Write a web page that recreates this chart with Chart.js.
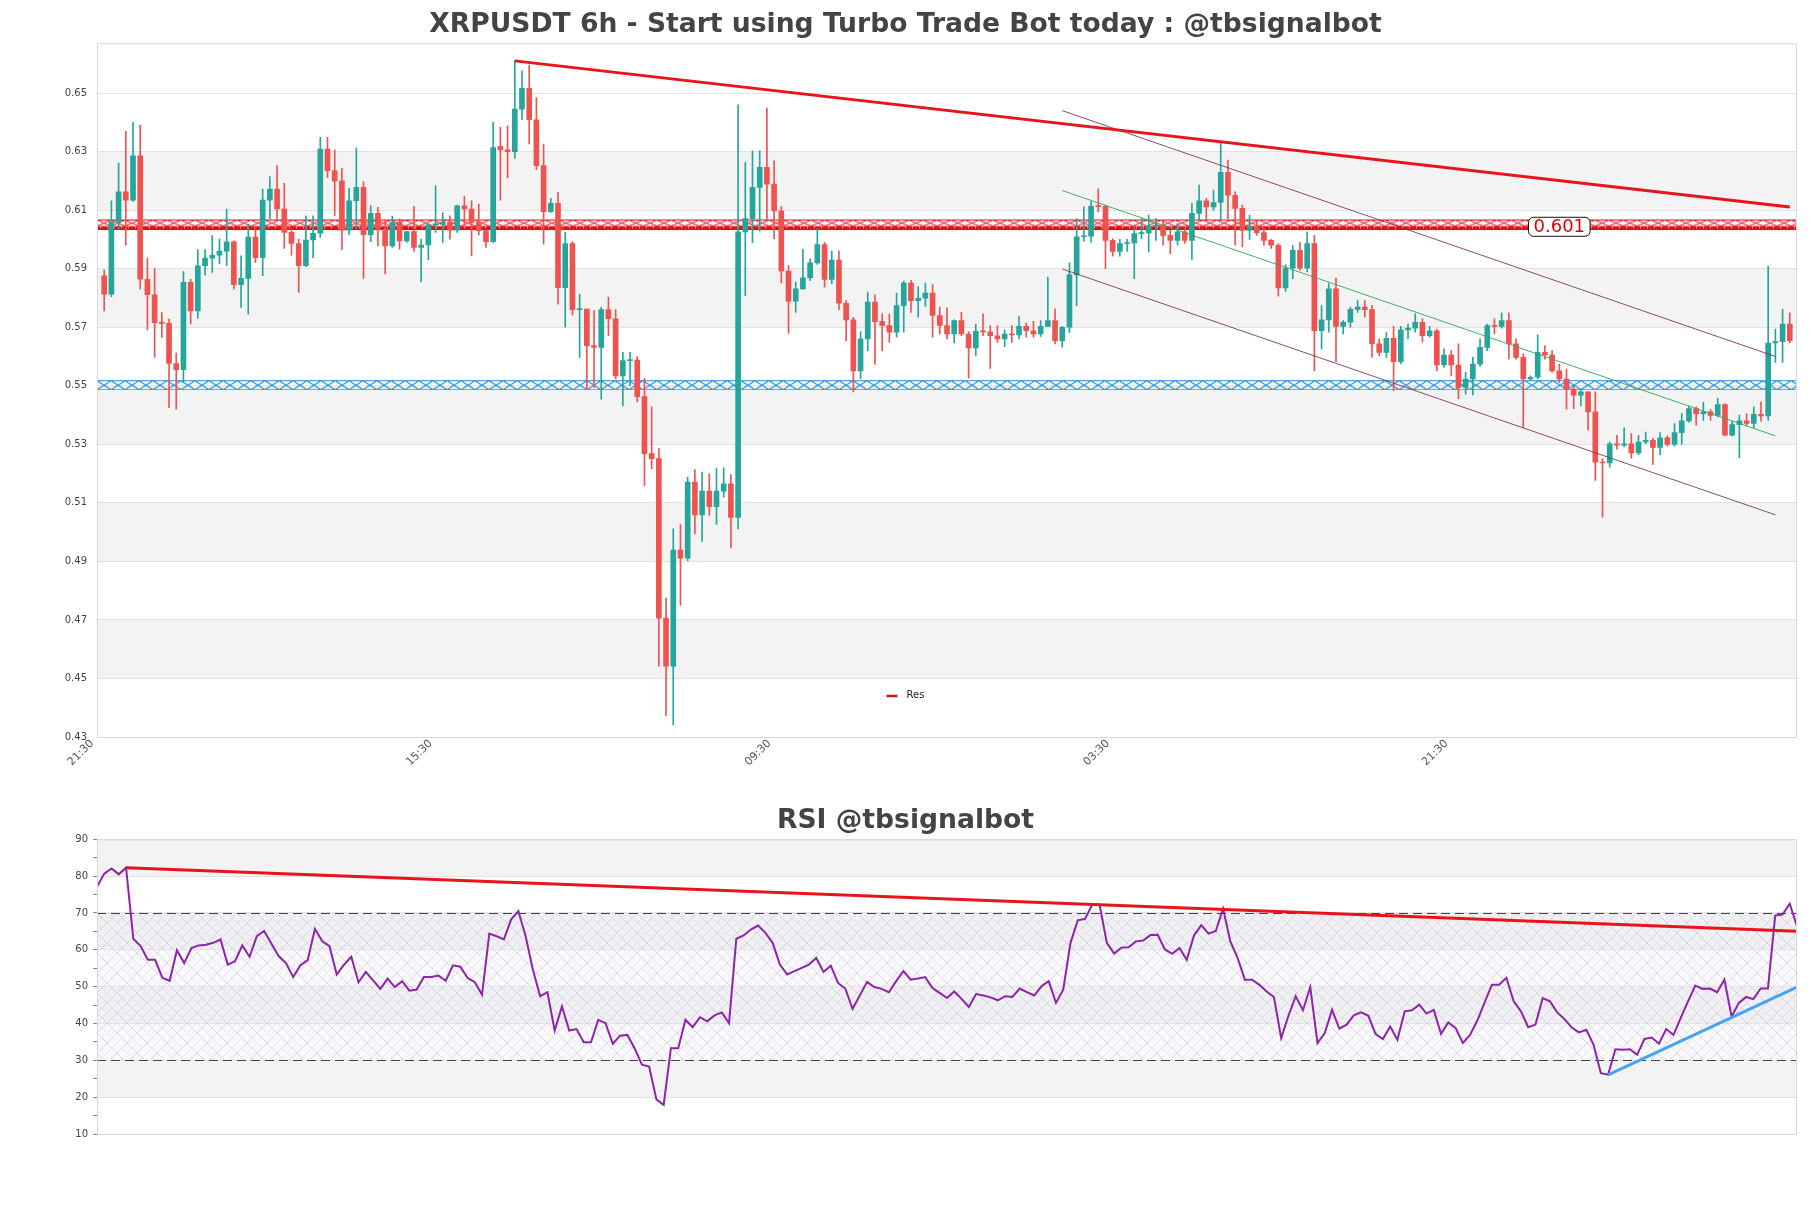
<!DOCTYPE html>
<html>
<head>
<meta charset="utf-8">
<script src="https://cdn.jsdelivr.net/npm/chart.js@4.4.1/dist/chart.umd.min.js"></script>
<style>
  html, body { margin: 0; padding: 0; background: #fff; }
  #wrap { position: relative; width: 1811px; height: 1208px; }
  #priceChart { position: absolute; left: 0; top: 0; }
  #rsiChart { position: absolute; left: 0; top: 796px; }
</style>
</head>
<body>
<div id="wrap">
  <canvas id="priceChart" width="1811" height="780"></canvas>
  <canvas id="rsiChart" width="1811" height="412"></canvas>
</div>
<script>
// ---- data (6h candles, oldest first) ----
const opens = [
  .5876,.5813,.6060,.6163,.6134,.6286,.5864,.5811,.5716,.5713,
  .5576,.5555,.5853,.5756,.5910,.5936,.5946,.5960,.5992,.5845,
  .5867,.6008,.5938,.6134,.6172,.6104,.6024,.5986,.5910,.5998,
  .6021,.6309,.6235,.6200,.6032,.6132,.6178,.6016,.6089,.6035,
  .5978,.6058,.5995,.6027,.5973,.5981,.6050,.6052,.6058,.6032,
  .6115,.6104,.6058,.6030,.5992,.6318,.6306,.6300,.6445,.6516,
  .6409,.6252,.6095,.6123,.5835,.5986,.5760,.5762,.5637,.5631,
  .5760,.5729,.5534,.5586,.5588,.5463,.5268,.5251,.4706,.4542,
  .4939,.4911,.5171,.5059,.5140,.5087,.5140,.5165,.5050,.6026,
  .6071,.6178,.6246,.6189,.6097,.5892,.5789,.5831,.5869,.5920,
  .5982,.5863,.5929,.5782,.5725,.5551,.5660,.5786,.5719,.5706,
  .5683,.5774,.5851,.5791,.5799,.5817,.5740,.5706,.5677,.5723,
  .5677,.5629,.5686,.5684,.5671,.5660,.5677,.5674,.5703,.5688,
  .5677,.5703,.5723,.5654,.5700,.5879,.6009,.6011,.6114,.6112,
  .5997,.5959,.5986,.5988,.6020,.6022,.6046,.6048,.6014,.5997,
  .6026,.5997,.6089,.6132,.6111,.6126,.6229,.6151,.6106,.6031,
  .6043,.6023,.5997,.5980,.5834,.5902,.5963,.5902,.5986,.5688,
  .5725,.5831,.5703,.5717,.5761,.5769,.5760,.5643,.5614,.5662,
  .5582,.5691,.5697,.5717,.5671,.5688,.5571,.5605,.5571,.5494,
  .5523,.5574,.5631,.5706,.5703,.5723,.5643,.5597,.5523,.5529,
  .5614,.5605,.5551,.5523,.5489,.5468,.5479,.5411,.5239,.5236,
  .5302,.5297,.5302,.5271,.5308,.5314,.5289,.5322,.5300,.5340,
  .5380,.5422,.5405,.5411,.5399,.5436,.5331,.5367,.5380,.5371,
  .5402,.5397,.5646,.5651,.5711
];
const highs = [
  .5896,.6132,.6261,.6369,.6400,.6390,.5936,.5900,.5750,.5728,
  .5612,.5890,.5864,.5965,.5965,.6013,.6001,.6104,.5995,.5944,
  .6052,.6035,.6172,.6215,.6252,.6192,.6035,.6001,.6081,.6081,
  .6349,.6349,.6306,.6243,.6175,.6312,.6197,.6115,.6110,.6064,
  .6079,.6070,.6027,.6113,.6001,.6052,.6183,.6092,.6081,.6117,
  .6147,.6132,.6121,.6030,.6400,.6383,.6388,.6610,.6576,.6596,
  .6485,.6326,.6140,.6161,.6024,.5993,.5813,.5762,.5757,.5768,
  .5803,.5760,.5614,.5614,.5600,.5525,.5428,.5285,.4775,.5011,
  .5026,.5188,.5214,.5205,.5199,.5217,.5220,.5197,.6460,.6263,
  .6303,.6303,.6449,.6269,.6112,.5911,.5854,.5966,.5934,.6037,
  .5990,.5960,.5960,.5791,.5734,.5685,.5820,.5811,.5746,.5746,
  .5817,.5858,.5860,.5839,.5851,.5846,.5769,.5766,.5725,.5751,
  .5685,.5711,.5746,.5706,.5706,.5691,.5706,.5736,.5714,.5720,
  .5723,.5871,.5763,.5703,.5920,.6071,.6111,.6129,.6174,.6117,
  .6003,.6000,.6000,.6041,.6071,.6083,.6071,.6062,.6031,.6054,
  .6037,.6123,.6186,.6140,.6169,.6334,.6271,.6163,.6117,.6083,
  .6060,.6037,.6000,.5986,.5914,.5980,.5990,.6026,.6014,.5774,
  .5849,.5868,.5723,.5769,.5791,.5791,.5775,.5660,.5683,.5703,
  .5703,.5711,.5746,.5729,.5703,.5694,.5626,.5620,.5643,.5546,
  .5597,.5660,.5711,.5729,.5749,.5749,.5660,.5609,.5534,.5674,
  .5637,.5620,.5574,.5557,.5500,.5490,.5479,.5479,.5251,.5308,
  .5331,.5356,.5337,.5331,.5342,.5320,.5340,.5329,.5371,.5405,
  .5431,.5428,.5443,.5419,.5457,.5439,.5379,.5400,.5405,.5428,
  .5445,.5909,.5694,.5761,.5749
];
const lows = [
  .5756,.5804,.6035,.5980,.6130,.5830,.5691,.5597,.5665,.5425,
  .5420,.5511,.5711,.5730,.5878,.5887,.5916,.5910,.5830,.5768,
  .5745,.5921,.5876,.6070,.6070,.5969,.5946,.5819,.5907,.5938,
  .6007,.6212,.6081,.5965,.6016,.6035,.5867,.5992,.5978,.5882,
  .5973,.5967,.5990,.5959,.5855,.5931,.6024,.5990,.6001,.6024,
  .6047,.5944,.6015,.5973,.5990,.6134,.6210,.6277,.6409,.6326,
  .6238,.5984,.6092,.5779,.5700,.5741,.5597,.5489,.5494,.5454,
  .5671,.5523,.5431,.5500,.5445,.5159,.5217,.4542,.4373,.4342,
  .4750,.4902,.4994,.4968,.5057,.5026,.5119,.4946,.5011,.5808,
  .5989,.6028,.6066,.6003,.5851,.5679,.5751,.5830,.5860,.5915,
  .5837,.5849,.5760,.5654,.5479,.5523,.5620,.5574,.5620,.5648,
  .5666,.5683,.5751,.5734,.5771,.5666,.5677,.5660,.5646,.5671,
  .5526,.5603,.5671,.5559,.5648,.5634,.5648,.5660,.5666,.5666,
  .5669,.5702,.5643,.5632,.5681,.5774,.5994,.5991,.6094,.5900,
  .5943,.5943,.5959,.5866,.6003,.5957,.5997,.5980,.5951,.5980,
  .5986,.5932,.6066,.6066,.6100,.6066,.6071,.5980,.5974,.6000,
  .6014,.5980,.5969,.5806,.5822,.5866,.5895,.5889,.5551,.5626,
  .5683,.5582,.5677,.5700,.5751,.5734,.5597,.5603,.5597,.5483,
  .5575,.5660,.5683,.5649,.5666,.5551,.5563,.5534,.5456,.5471,
  .5469,.5566,.5620,.5677,.5697,.5591,.5591,.5357,.5517,.5523,
  .5591,.5546,.5511,.5420,.5422,.5431,.5348,.5177,.5051,.5222,
  .5283,.5291,.5253,.5265,.5302,.5231,.5265,.5294,.5294,.5300,
  .5376,.5365,.5382,.5382,.5394,.5329,.5329,.5254,.5365,.5357,
  .5379,.5382,.5580,.5580,.5646
];
const closes = [
  .5813,.6060,.6163,.6134,.6286,.5864,.5811,.5716,.5713,.5576,
  .5555,.5853,.5756,.5910,.5936,.5946,.5960,.5992,.5845,.5867,
  .6008,.5938,.6134,.6172,.6104,.6024,.5986,.5910,.5998,.6021,
  .6309,.6235,.6200,.6032,.6132,.6178,.6016,.6089,.6035,.5978,
  .6058,.5995,.6027,.5973,.5981,.6050,.6052,.6058,.6032,.6115,
  .6104,.6058,.6030,.5992,.6314,.6306,.6300,.6445,.6516,.6409,
  .6252,.6095,.6123,.5835,.5986,.5760,.5762,.5637,.5631,.5760,
  .5729,.5534,.5586,.5588,.5463,.5268,.5251,.4706,.4542,.4939,
  .4911,.5171,.5059,.5140,.5087,.5140,.5165,.5050,.6026,.6071,
  .6178,.6246,.6189,.6097,.5892,.5789,.5831,.5869,.5920,.5982,
  .5863,.5929,.5782,.5725,.5551,.5660,.5786,.5719,.5706,.5683,
  .5774,.5851,.5791,.5799,.5817,.5740,.5706,.5677,.5723,.5677,
  .5629,.5686,.5684,.5671,.5660,.5677,.5674,.5703,.5688,.5677,
  .5703,.5723,.5654,.5700,.5879,.6009,.6011,.6114,.6112,.5997,
  .5959,.5986,.5988,.6020,.6022,.6046,.6048,.6014,.5997,.6026,
  .5997,.6089,.6132,.6111,.6126,.6229,.6151,.6106,.6031,.6043,
  .6023,.5997,.5980,.5834,.5902,.5963,.5902,.5986,.5688,.5725,
  .5831,.5703,.5717,.5761,.5769,.5760,.5643,.5614,.5662,.5582,
  .5691,.5697,.5717,.5671,.5688,.5571,.5605,.5571,.5494,.5523,
  .5574,.5631,.5706,.5703,.5723,.5643,.5597,.5523,.5529,.5614,
  .5605,.5551,.5523,.5489,.5468,.5479,.5411,.5239,.5236,.5302,
  .5297,.5302,.5271,.5308,.5314,.5289,.5322,.5300,.5340,.5380,
  .5422,.5405,.5411,.5399,.5436,.5331,.5367,.5380,.5371,.5402,
  .5397,.5646,.5651,.5711,.5654
];
const rsiValues = [
  77.1,80.7,82.1,80.5,82.3,63.0,61.0,57.3,57.3,52.4,
  51.6,59.9,56.4,60.5,61.2,61.4,61.9,62.8,56.0,56.9,
  61.2,58.1,63.7,65.1,61.7,58.3,56.4,52.6,55.8,57.2,
  65.7,62.3,61.0,53.3,56.0,58.1,51.2,54.0,51.7,49.4,
  52.2,49.9,51.5,48.9,49.2,52.6,52.6,53.0,51.6,55.8,
  55.4,52.4,51.2,47.8,64.4,63.7,62.8,68.2,70.5,63.7,
  54.6,47.4,48.5,38.1,44.6,38.1,38.5,34.9,34.9,41.0,
  40.1,34.5,36.7,36.9,33.3,28.8,28.3,19.4,17.9,33.3,
  33.3,41.0,39.0,41.7,40.6,42.2,43.0,40.1,63.0,63.9,
  65.5,66.6,64.6,61.9,56.0,53.3,54.2,55.1,56.0,57.8,
  54.0,55.7,51.0,49.5,44.0,47.6,51.3,49.9,49.4,48.5,
  51.5,54.2,51.9,52.2,52.6,49.6,48.3,46.9,48.7,46.7,
  44.5,48.0,47.6,47.1,46.3,47.4,47.2,49.5,48.5,47.6,
  50.1,51.5,45.6,49.2,61.9,68.0,68.4,72.3,72.3,61.9,
  59.0,60.6,60.7,62.3,62.5,64.0,64.1,60.1,58.9,60.5,
  57.3,63.9,66.7,64.4,65.1,71.2,62.3,57.8,51.9,51.9,
  50.5,48.7,47.2,36.0,42.1,47.4,43.6,49.9,34.7,37.4,
  43.7,38.6,39.7,42.2,43.0,42.1,37.1,35.8,39.2,35.6,
  43.3,43.6,45.1,42.7,43.7,37.2,40.3,38.8,34.7,36.9,
  40.8,45.7,50.5,50.5,52.4,46.0,43.3,39.0,39.7,46.9,
  46.0,43.0,41.2,38.9,37.6,38.3,34.2,26.5,26.1,33.0,
  32.9,33.0,31.5,35.8,36.2,34.5,38.5,36.9,41.5,46.0,
  50.3,49.4,49.5,48.5,51.9,41.9,45.6,47.2,46.6,49.5,
  49.5,69.3,69.6,72.5,66.4
];

// x tick labels (candle index -> time)
const tickIdx = [0, 47, 94, 141, 188];
const tickLabels = ["21:30", "15:30", "09:30", "03:30", "21:30"];

// drawn lines (candle index, value)
const priceTrend = [{ x: 57, y: 0.6610 }, { x: 234, y: 0.6111 }];
const channelTop = [{ x: 133, y: 0.6440 }, { x: 232, y: 0.5600 }];
const channelMid = [{ x: 133, y: 0.6167 }, { x: 232, y: 0.5329 }];
const channelBot = [{ x: 133, y: 0.5899 }, { x: 232, y: 0.5059 }];
const rsiResLine = [{ x: 4, y: 82.3 }, { x: 234, y: 65.05 }];
const rsiSupLine = [{ x: 208, y: 26.05 }, { x: 234, y: 49.9 }];

// zones
const resBand = [0.6032, 0.6068];
const supBand = [0.5486, 0.5519];
const resLabel = "0.601";

const UP = "#26a69a";
const DOWN = "#ef5350";
const FONT = "DejaVu Sans";

Chart.defaults.font.family = FONT;
Chart.defaults.color = "#444";

const n = closes.length;
const bodyData = closes.map((c, i) => ({ x: i, y: [opens[i], c] }));
const wickData = closes.map((c, i) => ({ x: i, y: [lows[i], highs[i]] }));
const candleColors = closes.map((c, i) => (c >= opens[i] ? UP : DOWN));

const yTicks = [];
for (let v = 0.43; v < 0.66; v += 0.02) yTicks.push(+v.toFixed(2));
const rsiTicks = [];
for (let v = 10; v <= 90; v += 5) rsiTicks.push(v);

// empty right-hand gutter so the titles centre on the whole canvas
const gutter = {
  position: "right", display: true,
  grid: { display: false, drawTicks: false },
  border: { display: false },
  ticks: { display: false },
  afterFit: s => { s.width = 14; }
};

function makePattern(w, h, draw) {
  const c = document.createElement("canvas");
  c.width = w; c.height = h;
  draw(c.getContext("2d"), w, h);
  return c;
}

const redTile = makePattern(14, 10, (g, w, h) => {
  g.strokeStyle = "#e0101a"; g.lineWidth = 1;
  g.beginPath();
  g.moveTo(0, 0.5); g.lineTo(w, 0.5);
  g.moveTo(0, 0.5); g.lineTo(w, 6.5);
  g.moveTo(w, 0.5); g.lineTo(0, 6.5);
  g.stroke();
  g.fillStyle = "#e0101a"; g.fillRect(0, 6.5, w, 3.5);
  g.fillStyle = "#fff"; g.fillRect(3, 7.5, 1, 1); g.fillRect(10, 7.5, 1, 1);
});
const blueTile = makePattern(14, 10, (g, w, h) => {
  g.strokeStyle = "#2490dc"; g.lineWidth = 1.1;
  g.beginPath();
  g.moveTo(0, 0.5); g.lineTo(w, 0.5);
  g.moveTo(0, h - 0.5); g.lineTo(w, h - 0.5);
  g.moveTo(0, 0.5); g.lineTo(w, h - 0.5);
  g.moveTo(w, 0.5); g.lineTo(0, h - 0.5);
  g.stroke();
});
const hatchTile = makePattern(20, 20, (g, w, h) => {
  g.fillStyle = "rgba(236,230,244,0.25)"; g.fillRect(0, 0, w, h);
  g.strokeStyle = "rgba(200,195,212,0.45)"; g.lineWidth = 0.6;
  g.beginPath();
  g.moveTo(10, 0); g.lineTo(20, 10); g.moveTo(0, 10); g.lineTo(10, 20);
  g.moveTo(10, 0); g.lineTo(0, 10); g.moveTo(20, 10); g.lineTo(10, 20);
  g.stroke();
  g.strokeStyle = "rgba(185,180,200,0.6)"; g.lineWidth = 0.8;
  g.beginPath();
  g.moveTo(0, 0); g.lineTo(20, 20); g.moveTo(20, 0); g.lineTo(0, 20);
  g.stroke();
});

function fillBand(ctx, area, yScale, lo, hi, tile) {
  const top = yScale.getPixelForValue(hi);
  const bot = yScale.getPixelForValue(lo);
  ctx.save();
  ctx.translate(area.left, top);
  ctx.fillStyle = ctx.createPattern(tile, "repeat");
  ctx.fillRect(0, 0, area.right - area.left, bot - top);
  ctx.restore();
}

const stripes = {
  id: "stripes",
  beforeDraw(chart, args, opts) {
    const { ctx, chartArea: a, scales: { y } } = chart;
    ctx.save();
    ctx.fillStyle = "#fff";
    ctx.fillRect(0, 0, chart.width, chart.height);
    ctx.fillStyle = "#f3f3f3";
    opts.bands.forEach(([lo, hi]) => {
      const t = y.getPixelForValue(hi), b = y.getPixelForValue(lo);
      ctx.fillRect(a.left, t, a.right - a.left, b - t);
    });
    ctx.restore();
  },
  afterDatasetsDraw(chart) {
    const { ctx, chartArea: a } = chart;
    ctx.save();
    ctx.strokeStyle = "#d8d8d8";
    ctx.lineWidth = 1;
    ctx.strokeRect(a.left + 0.5, a.top + 0.5, a.right - a.left - 1, a.bottom - a.top);
    ctx.restore();
  }
};

const zones = {
  id: "zones",
  beforeDatasetsDraw(chart) {
    const { ctx, chartArea: a, scales: { y } } = chart;
    fillBand(ctx, a, y, resBand[0], resBand[1], redTile);
    fillBand(ctx, a, y, supBand[0], supBand[1], blueTile);
  },
  afterDatasetsDraw(chart) {
    const { ctx, chartArea: a, scales: { x, y } } = chart;
    // level label
    const cx = x.getPixelForValue(202);
    const cy = y.getPixelForValue((resBand[0] + resBand[1]) / 2) + 2;
    ctx.save();
    ctx.font = "18px " + FONT;
    const tw = ctx.measureText(resLabel).width;
    const bw = tw + 10, bh = 19;
    ctx.beginPath();
    ctx.roundRect(cx - bw / 2, cy - bh / 2, bw, bh, 5);
    ctx.fillStyle = "#fff"; ctx.fill();
    ctx.strokeStyle = "#111"; ctx.lineWidth = 1; ctx.stroke();
    ctx.fillStyle = "#e00000";
    ctx.textAlign = "center"; ctx.textBaseline = "middle";
    ctx.fillText(resLabel, cx, cy + 1);
    // legend
    const lx = chart.width / 2, ly = a.bottom - 42;
    ctx.strokeStyle = "#d0101a"; ctx.lineWidth = 2.5;
    ctx.beginPath(); ctx.moveTo(lx - 19, ly + 1); ctx.lineTo(lx - 8, ly + 1); ctx.stroke();
    ctx.font = "10px " + FONT; ctx.fillStyle = "#222";
    ctx.textAlign = "left";
    ctx.fillText("Res", lx + 1, ly);
    ctx.restore();
  }
};

new Chart(document.getElementById("priceChart"), {
  type: "bar",
  data: {
    datasets: [
      { type: "line", label: "Trend", data: priceTrend, borderColor: "#e8141b", borderWidth: 3, pointRadius: 0, order: 0 },
      { type: "line", label: "Channel top", data: channelTop, borderColor: "rgba(125,45,80,0.85)", borderWidth: 1, pointRadius: 0, order: 0 },
      { type: "line", label: "Channel mid", data: channelMid, borderColor: "rgba(50,165,90,0.9)", borderWidth: 1, pointRadius: 0, order: 0 },
      { type: "line", label: "Channel bottom", data: channelBot, borderColor: "rgba(125,45,80,0.85)", borderWidth: 1, pointRadius: 0, order: 0 },
      { label: "Body", data: bodyData, backgroundColor: candleColors, barThickness: 5, minBarLength: 1, grouped: false, order: 1 },
      { label: "Wick", data: wickData, backgroundColor: candleColors, barThickness: 1, grouped: false, order: 2 }
    ]
  },
  options: {
    responsive: false,
    devicePixelRatio: 1,
    animation: false,
    events: [],
    layout: { padding: 0 },
    scales: {
      x: {
        type: "linear", min: -1, max: n, offset: false,
        grid: { display: false, drawTicks: false },
        border: { display: false },
        afterBuildTicks: s => { s.ticks = tickIdx.map(v => ({ value: v })); },
        ticks: {
          autoSkip: false, maxRotation: 45, minRotation: 45, padding: 0, labelOffset: -12,
          color: "#555", font: { size: 11 },
          callback: v => tickLabels[tickIdx.indexOf(v)] ?? ""
        },
        afterFit: s => { s.height = 43; }
      },
      y: {
        min: 0.43, max: 0.667,
        grid: { color: "#e2e2e2", drawTicks: false },
        border: { display: false },
        afterBuildTicks: s => { s.ticks = yTicks.map(v => ({ value: v })); },
        ticks: { color: "#444", font: { size: 10 }, padding: 10, callback: v => v.toFixed(2) },
        afterFit: s => { s.width = 97; }
      },
      gutter
    },
    plugins: {
      legend: { display: false },
      tooltip: { enabled: false },
      title: {
        display: true,
        text: "XRPUSDT 6h - Start using Turbo Trade Bot today : @tbsignalbot",
        color: "#444",
        font: { size: 26.6, weight: "bold" },
        padding: { top: 9, bottom: 2.4 }
      },
      stripes: { bands: [[0.45, 0.47], [0.49, 0.51], [0.53, 0.55], [0.57, 0.59], [0.61, 0.63]] }
    }
  },
  plugins: [stripes, zones]
});

const rsiZones = {
  id: "rsiZones",
  beforeDatasetsDraw(chart) {
    const { ctx, chartArea: a, scales: { y } } = chart;
    fillBand(ctx, a, y, 30, 70, hatchTile);
    ctx.save();
    ctx.strokeStyle = "#444";
    ctx.lineWidth = 1;
    ctx.setLineDash([9, 5]);
    [30, 70].forEach(v => {
      const py = Math.round(y.getPixelForValue(v)) + 0.5;
      ctx.beginPath(); ctx.moveTo(a.left, py); ctx.lineTo(a.right, py); ctx.stroke();
    });
    ctx.restore();
  }
};

new Chart(document.getElementById("rsiChart"), {
  type: "line",
  data: {
    datasets: [
      { label: "RSI trend", data: rsiResLine, borderColor: "#e8141b", borderWidth: 3, pointRadius: 0 },
      { label: "RSI support", data: rsiSupLine, borderColor: "#42a5f5", borderWidth: 3, pointRadius: 0 },
      { label: "RSI", data: rsiValues.map((v, i) => ({ x: i, y: v })), borderColor: "#8e24aa", borderWidth: 2, pointRadius: 0, tension: 0 }
    ]
  },
  options: {
    responsive: false,
    devicePixelRatio: 1,
    animation: false,
    events: [],
    layout: { padding: { left: 0, right: 0, top: 0, bottom: 74 } },
    scales: {
      x: { type: "linear", min: 0, max: n - 1, display: false },
      y: {
        min: 10, max: 90,
        border: { display: false },
        afterBuildTicks: s => { s.ticks = rsiTicks.map(v => ({ value: v })); },
        grid: {
          color: c => (c.tick && c.tick.value % 10 === 0 ? "#e2e2e2" : "rgba(0,0,0,0)"),
          tickColor: "#888", tickLength: 4
        },
        ticks: { color: "#444", font: { size: 10 }, padding: 5, callback: v => (v % 10 === 0 ? v : "") },
        afterFit: s => { s.width = 97; }
      },
      gutter
    },
    plugins: {
      legend: { display: false },
      tooltip: { enabled: false },
      title: {
        display: true,
        text: "RSI @tbsignalbot",
        color: "#444",
        font: { size: 26.6, weight: "bold" },
        padding: { top: 9, bottom: 2.4 }
      },
      stripes: { bands: [[20, 30], [40, 50], [60, 70], [80, 90]] }
    }
  },
  plugins: [stripes, rsiZones]
});
</script>
</body>
</html>
